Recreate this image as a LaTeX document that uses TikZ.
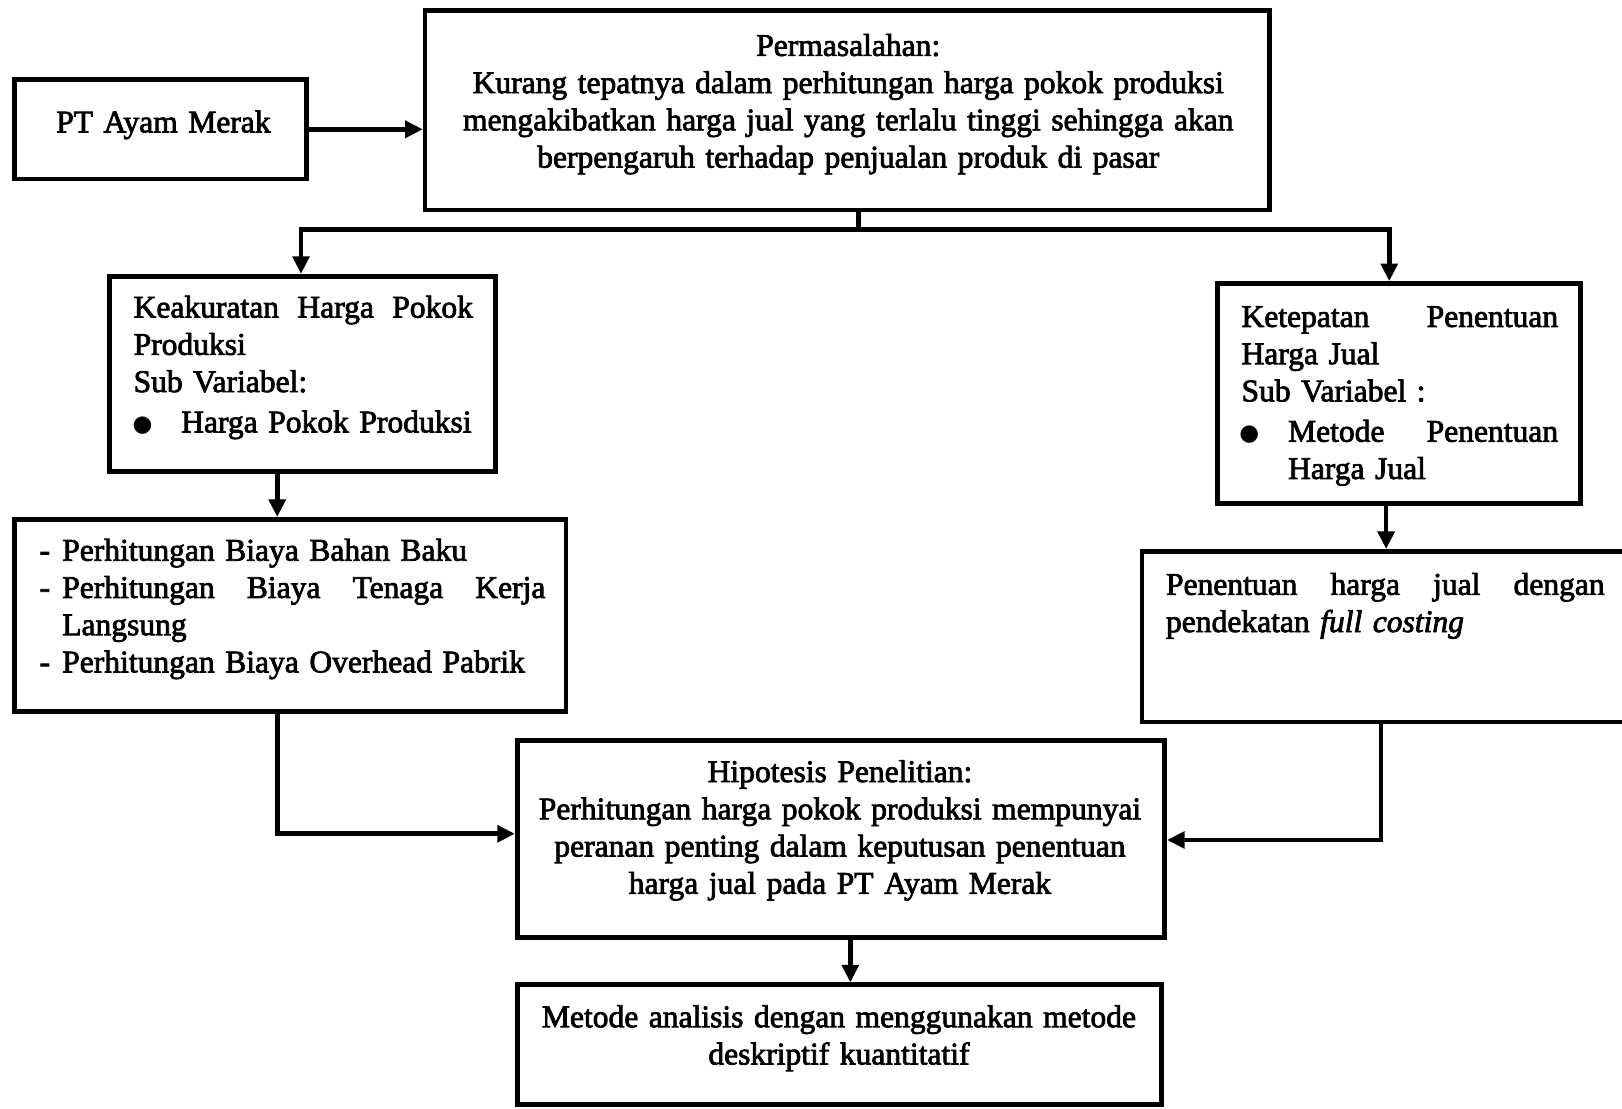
\documentclass[tikz,border=0pt]{standalone}
\usepackage{fontspec}
\setmainfont{Liberation Serif}[FakeBold=2.4]
\newfontfamily\dejavu{DejaVu Sans}
\usetikzlibrary{arrows.meta}
\newcommand{\bigbul}{{\dejavu\fontsize{22}{22}\selectfont ●}}
\begin{document}
\begin{tikzpicture}[x=1pt,y=-1pt,
  box/.style={draw, line width=4.5pt, rectangle, inner sep=0pt},
  txt/.style={inner sep=0pt, font=\fontsize{30.5}{36}\selectfont},
  conn/.style={line width=4.5pt},
  arr/.style={conn, -{Triangle[length=17pt,width=16pt]}}]
\path[use as bounding box, clip] (0,0) rectangle (1568,1072);
\fill[white] (0,0) rectangle (1568,1072);

% boxes
\node[box, minimum width=282pt, minimum height=96pt] (pt) at (155,125) {};
\node[box, minimum width=816pt, minimum height=193pt] (perm) at (819,106.5) {};
\node[box, minimum width=373pt, minimum height=189pt] (kea) at (292.5,361.5) {};
\node[box, minimum width=351pt, minimum height=213pt] (kete) at (1352.5,380.5) {};
\node[box, minimum width=533pt, minimum height=186pt] (perh) at (280.5,595) {};
\node[box, minimum width=496pt, minimum height=165pt] (pen) at (1352,615.5) {};
\node[box, minimum width=626pt, minimum height=190pt] (hip) at (813,811) {};
\node[box, minimum width=623pt, minimum height=116pt] (met) at (811.5,1010) {};

% texts
\node[txt, anchor=base, text width=260pt, align=center] (tpt) at (158,128) {PT Ayam Merak};
\node[txt, anchor=base, text width=800pt, align=center] (tperm) at (820,54)
  {Permasalahan:\\ Kurang tepatnya dalam perhitungan harga pokok produksi\\ mengakibatkan harga jual yang terlalu tinggi sehingga akan\\ berpengaruh terhadap penjualan produk di pasar};
\node[txt, anchor=base west, text width=330pt, align=left] (tkea) at (129,307)
  {\makebox[328pt][l]{Keakuratan\hfill Harga\hfill Pokok}\\ Produksi\\ Sub Variabel:\\[3pt] \makebox[46pt][l]{\hspace{-1pt}\raisebox{1pt}{\bigbul}}Harga Pokok Produksi};
\node[txt, anchor=base west, text width=310pt, align=left] (tkete) at (1200,316)
  {\makebox[306pt][l]{Ketepatan\hfill Penentuan}\\ Harga Jual\\ Sub Variabel :\\[3pt] \makebox[45pt][l]{\hspace{-2pt}\raisebox{1pt}{\bigbul}}\makebox[261pt][l]{Metode\hfill Penentuan}\\ \hspace*{45pt}Harga Jual};
\node[txt, anchor=base west, text width=500pt, align=left] (tperh) at (38,542)
  {\makebox[22pt][l]{-}Perhitungan Biaya Bahan Baku\\ \makebox[22pt][l]{-}\makebox[467pt][l]{Perhitungan\hfill Biaya\hfill Tenaga\hfill Kerja}\\ \hspace*{22pt}Langsung\\ \makebox[22pt][l]{-}Perhitungan Biaya Overhead Pabrik};
\node[txt, anchor=base west, text width=430pt, align=left] (tpen) at (1127,575)
  {\makebox[424pt][l]{Penentuan\hfill harga\hfill jual\hfill dengan}\\ pendekatan \textit{full costing}};
\node[txt, anchor=base, text width=610pt, align=center] (thip) at (812,756)
  {Hipotesis Penelitian:\\ Perhitungan harga pokok produksi mempunyai\\ peranan penting dalam keputusan penentuan\\ harga jual pada PT Ayam Merak};
\node[txt, anchor=base, text width=610pt, align=center] (tmet) at (811,993)
  {Metode analisis dengan menggunakan metode\\ deskriptif kuantitatif};

% connectors
\coordinate (split) at (830,222);
\draw[arr] (pt.east) -- (pt.east -| perm.west);
\draw[conn] (perm.south -| split) -- (split);
\draw[arr] ([xshift=5pt]split) -| ([xshift=-1.5pt]kea.north);
\draw[arr] ([xshift=-5pt]split) -| ([xshift=-9.5pt]kete.north);
\draw[arr] ([xshift=-24.5pt]kea.south) -- ([xshift=-24.5pt]kea.south |- perh.north);
\draw[arr] ([xshift=-12.5pt]kete.south) -- ([xshift=-12.5pt]kete.south |- pen.north);
\draw[arr] ([xshift=-12.5pt]perh.south) |- ([yshift=5pt]hip.west);
\draw[arr] ([xshift=-17pt]pen.south) |- ([yshift=-1pt]hip.east);
\draw[arr] ([xshift=9pt]hip.south) -- ([xshift=9pt]hip.south |- met.north);
\end{tikzpicture}
\end{document}
